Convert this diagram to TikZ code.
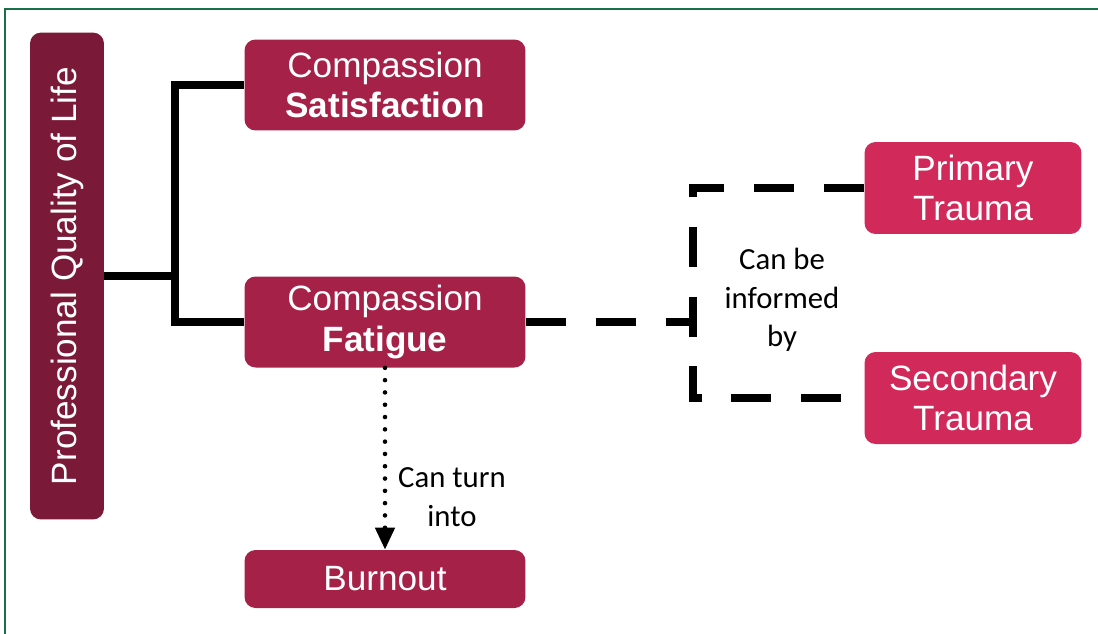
\documentclass[tikz,border=0pt]{standalone}
\usepackage{fontspec}
\setmainfont{Liberation Sans}
\newfontfamily\notefont{Carlito}
\usepackage{xcolor}
\usepackage{tikz}
\usetikzlibrary{arrows.meta}

\definecolor{qolred}{HTML}{7B1A38}
\definecolor{cfred}{HTML}{A62148}
\definecolor{trred}{HTML}{D12959}
\definecolor{frame}{HTML}{17704A}

\begin{document}
\begin{tikzpicture}[x=0.02cm,y=-0.02cm,
		box/.style={rectangle, rounded corners=0.22cm, text=white, align=center,
			font=\fontsize{20}{23}\selectfont, inner sep=0pt},
		midbox/.style={box, fill=cfred, minimum width=5.62cm, minimum height=1.82cm},
		sidebox/.style={box, fill=trred, minimum width=4.34cm, minimum height=1.84cm},
		note/.style={align=center, font=\notefont\fontsize{17.5}{22}\selectfont},
		link/.style={line width=4pt},
		maybe/.style={line width=4.5pt, dash pattern=on 22.8pt off 17pt}]
		\useasboundingbox (0,0) rectangle (1098,633);
		\draw[frame, line width=1.7pt] (5,9) rectangle (1110,645);
		
		% boxes
		\node[box, fill=qolred, rotate=90, minimum width=9.74cm, minimum height=1.48cm] (qol) at (67,276) {Professional Quality of Life};
		\node[midbox] (sat) at (385,85) {Compassion\\\textbf{Satisfaction}};
		\node[midbox] (fat) at (385,322) {Compassion\\\textbf{Fatigue}};
		\node[midbox, minimum height=1.16cm] (burn) at (385,579) {Burnout};
		\node[sidebox] (prim) at (973,188) {Primary\\Trauma};
		\node[sidebox] (sec) at (973,398) {Secondary\\Trauma};
		
		% solid branch
		\coordinate (fork) at (175,276);
		\draw[link] (qol.south) -- (fork);
		\draw[link] (sat.west) -| (fork) |- (fat.west);
		
		% dashed branch
		\coordinate (join) at (693,322);
		\draw[maybe] (fat.east) -- (join);
		\draw[maybe] (prim.west) -| (join) |- (sec.west);
		\node[note] (informed) at (782,300) {Can be\\informed\\by};
		
		% dotted arrow
		\draw[line width=2.6pt, line cap=round, dash pattern=on 0pt off 7pt,
			-{Triangle[width=10.8pt,length=12.5pt]}] (fat.south) -- (burn.north);
		\node[note] (turn) at (452,497) {Can turn\\into};
	\end{tikzpicture}
\end{document}
